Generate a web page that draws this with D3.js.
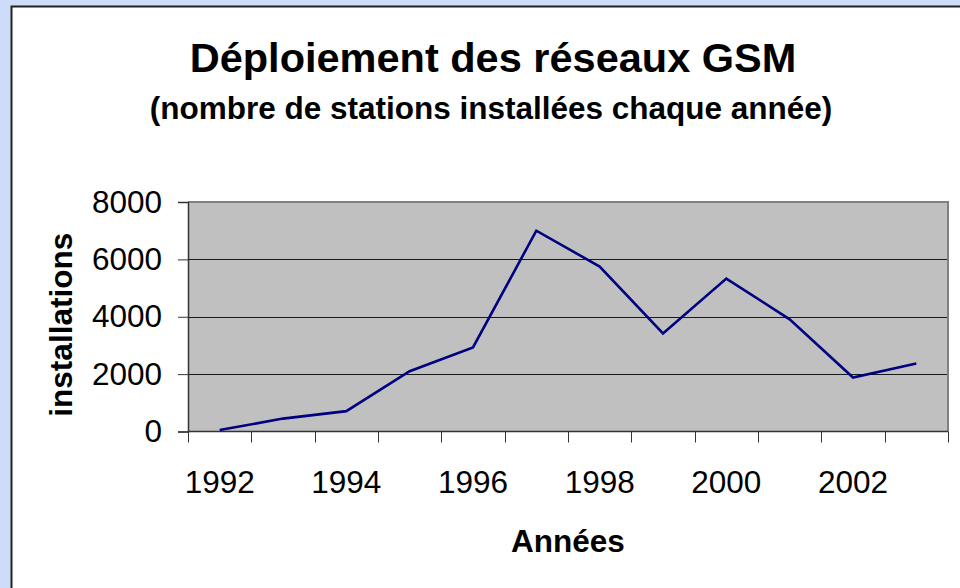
<!DOCTYPE html>
<html>
	<head>
		<meta charset="utf-8">
		<style type="text/css">
			html, body { margin: 0; padding: 0; background: #cddcf8; overflow: hidden; }
			svg { display: block; font-family: "Liberation Sans", Arial, sans-serif; }
		</style>
		<title>Déploiement des réseaux GSM</title>
	</head>
	<body>
		<script src="https://cdn.jsdelivr.net/npm/d3@7"></script>
		<script>

// installations per year
var years = [1992, 1993, 1994, 1995, 1996, 1997, 1998, 1999, 2000, 2001, 2002, 2003];
var installations = [50, 450, 710, 2100, 2930, 7000, 5750, 3420, 5330, 3910, 1880, 2370];
var yTicks = [0, 2000, 4000, 6000, 8000];
var yearLabels = [1992, 1994, 1996, 1998, 2000, 2002];

var W = 960, H = 588;
var plot = {left: 188, right: 948, top: 202, bottom: 431.5};

var svg = d3.select('body').append('svg')
    .attr('width', W)
    .attr('height', H);

// white chart box, running off the right and bottom edges
svg.append('rect')
    .attr('x', 11.5).attr('y', 6.5)
    .attr('width', W).attr('height', H)
    .attr('fill', 'white')
    .attr('stroke', '#222')
    .attr('stroke-width', 2);

var x = d3.scaleBand()
    .domain(years)
    .range([plot.left, plot.right])
    .padding(0);

var y = d3.scaleLinear()
    .domain([0, 8000])
    .range([plot.bottom, plot.top]);

// plot area
svg.append('rect')
    .attr('x', plot.left).attr('y', plot.top)
    .attr('width', plot.right - plot.left)
    .attr('height', plot.bottom - plot.top)
    .attr('fill', '#c0c0c0');

// gridlines
svg.append('g').selectAll('line')
    .data(yTicks.filter(d => d > 0 && d < 8000))
    .join('line')
    .attr('x1', plot.left).attr('x2', plot.right)
    .attr('y1', d => Math.round(y(d)) + 0.5).attr('y2', d => Math.round(y(d)) + 0.5)
    .attr('stroke', '#1a1a1a')
    .attr('stroke-width', 1);

// gray frame top and right
svg.append('polyline')
    .attr('points', `${plot.left},${plot.top} ${plot.right},${plot.top} ${plot.right},${plot.bottom}`)
    .attr('fill', 'none')
    .attr('stroke', '#808080')
    .attr('stroke-width', 2);

// y axis
var yAxis = d3.axisLeft(y)
    .tickValues(yTicks)
    .tickSize(10)
    .tickPadding(16)
    .tickFormat(d3.format('d'));
var gy = svg.append('g')
    .attr('transform', `translate(${plot.left},0)`)
    .call(yAxis);
gy.select('.domain').attr('stroke', '#333').attr('stroke-width', 1.5);
gy.selectAll('.tick line').attr('stroke', '#333');
gy.selectAll('.tick text')
    .attr('font-size', 31.5)
    .attr('font-family', '"Liberation Sans", Arial, sans-serif')
    .attr('fill', 'black');

// x axis: ticks on band boundaries
var bounds = years.map(d => x(d)).concat([plot.right]);
var gx = svg.append('g');
gx.append('line')
    .attr('x1', plot.left).attr('x2', plot.right)
    .attr('y1', plot.bottom).attr('y2', plot.bottom)
    .attr('stroke', '#333').attr('stroke-width', 1.5);
gx.selectAll('line.tk')
    .data(bounds)
    .join('line')
    .attr('class', 'tk')
    .attr('x1', d => Math.round(d) + 0.5).attr('x2', d => Math.round(d) + 0.5)
    .attr('y1', plot.bottom).attr('y2', plot.bottom + 11)
    .attr('stroke', '#333');
gx.selectAll('text')
    .data(yearLabels)
    .join('text')
    .attr('x', d => x(d) + x.bandwidth() / 2)
    .attr('y', 493)
    .attr('text-anchor', 'middle')
    .attr('font-size', 31.5)
    .text(d => d);

// the series
var line = d3.line()
    .x((d, i) => x(years[i]) + x.bandwidth() / 2)
    .y(d => y(d));

svg.append('path')
    .datum(installations)
    .attr('d', line)
    .attr('fill', 'none')
    .attr('stroke', '#000080')
    .attr('stroke-width', 2.6)
    .attr('stroke-linejoin', 'miter');

// titles
svg.append('text')
    .attr('x', 493).attr('y', 72)
    .attr('text-anchor', 'middle')
    .attr('font-size', 41.5)
    .attr('font-weight', 'bold')
    .text('Déploiement des réseaux GSM');

svg.append('text')
    .attr('x', 491).attr('y', 119)
    .attr('text-anchor', 'middle')
    .attr('font-size', 31.5)
    .attr('font-weight', 'bold')
    .text('(nombre de stations installées chaque année)');

svg.append('text')
    .attr('transform', `translate(72,${(plot.top + plot.bottom) / 2 + 8}) rotate(-90)`)
    .attr('text-anchor', 'middle')
    .attr('font-size', 31.5)
    .attr('font-weight', 'bold')
    .text('installations');

svg.append('text')
    .attr('x', (plot.left + plot.right) / 2).attr('y', 552)
    .attr('text-anchor', 'middle')
    .attr('font-size', 31.5)
    .attr('font-weight', 'bold')
    .text('Années');

		</script>
	</body>
</html>
